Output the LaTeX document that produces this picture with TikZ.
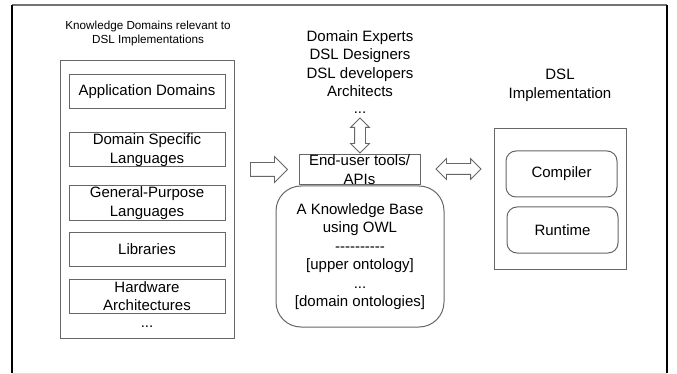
\documentclass[tikz,border=0pt]{standalone}
\usepackage{fontspec}
\setmainfont{Liberation Sans}
\usetikzlibrary{shapes.arrows}

\begin{document}
\begin{tikzpicture}[x=1pt,y=-1pt]
\tikzstyle{every node}+=[inner sep=0pt, align=center, font=\fontsize{15}{18.5}\selectfont]
\tikzstyle{kdbox}=[draw=black!60, line width=1pt, minimum width=156pt, minimum height=34pt]
\tikzstyle{implbox}=[draw=black!60, line width=1pt, rounded corners=10pt, minimum width=111pt, minimum height=46pt]
\tikzstyle{blk}=[draw=black!60, line width=0.8pt, fill=white, minimum width=0pt]
\useasboundingbox (0,0) rectangle (677,374);
% frame
\draw [black!55, line width=1.2pt] (12,5) -- (667,5);
\draw [black!12, line width=1pt] (12,373) -- (667,373);
\draw [black, line width=1.2pt] (12,5) -- (12,373);
\draw [black, line width=1.2pt] (667,5) -- (667,373);
% knowledge domains
\node (kdtitle) at (148,33) [font=\fontsize{11.7}{14}\selectfont] {Knowledge Domains relevant to\\DSL Implementations};
\node [draw=black!60, line width=1pt, minimum width=174pt, minimum height=277pt] (kd) at (147,199.5) {};
\node [kdbox] (app) at (147,92) {Application Domains};
\node [kdbox] (dsl) at (147,150) {Domain Specific\\Languages};
\node [kdbox] (gpl) at (147,203) {General-Purpose\\Languages};
\node [kdbox] (lib) at (147,249.5) {Libraries};
\node [kdbox] (hw) at (147,296) {Hardware\\Architectures};
\node (kddots) at (147,327) {...};
% people
\node (roles) at (360,63.5) {Domain Experts\\DSL Designers\\DSL developers\\Architects};
\node (rolesdots) at (360,113) {...};
% knowledge base
\node [draw=black!60, line width=1pt, rounded corners=25pt, minimum width=168pt, minimum height=141pt] (kb) at (360,256.5)
  {A Knowledge Base\\using OWL\\-{}-{}-{}-{}-{}-{}-{}-{}-{}-\\{[upper ontology]}\\...\\{[domain ontologies]}};
\node [draw=black!60, line width=1pt, fill=white, minimum width=121pt, minimum height=29pt] (api) at (359.5,169.5) {End-user tools/\\APIs};
% implementation
\node (impltitle) at (560,85.5) {DSL\\Implementation};
\node [draw=black!60, line width=1pt, minimum width=132pt, minimum height=140pt] (impl) at (560,199) {};
\node [implbox] (comp) at (561.5,174) {Compiler};
\node [implbox] (rt) at (562.5,230) {Runtime};
% block arrows
\node [single arrow, blk, inner ysep=6.5pt, single arrow head extend=6pt, minimum height=37pt] (kdarr) at (265.5,169.5) {};
\node [double arrow, blk, rotate=90, inner ysep=5pt, double arrow head extend=4pt, minimum height=35pt] (rolesarr) at (360,135.5) {};
\node [double arrow, blk, inner ysep=5pt, double arrow head extend=5pt, minimum height=45pt] (implarr) at (458.5,169) {};
\end{tikzpicture}
\end{document}
